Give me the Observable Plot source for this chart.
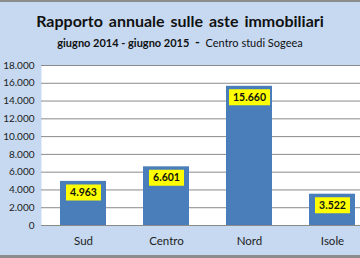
<!DOCTYPE html>
<html><head><meta charset="utf-8">
<script src="https://cdn.jsdelivr.net/npm/d3@7"></script>
<script src="https://cdn.jsdelivr.net/npm/@observablehq/plot@0.6"></script>
<style>
html,body{margin:0;padding:0;}
#wrap{position:relative;width:360px;height:258px;box-sizing:border-box;background:#c6d9f1;border-top:2px solid #8c8c8c;border-bottom:3px solid #8c8c8c;overflow:hidden;font-family:Lato,"Open Sans",sans-serif;}
#title{position:absolute;left:0;right:0;top:9px;text-align:center;font-weight:bold;font-size:16px;color:#111;word-spacing:2px;}
#sub{position:absolute;left:0;right:0;top:32px;text-align:center;font-size:11px;color:#111;}
#chart{position:absolute;left:0;top:54px;}
</style></head>
<body><div id="wrap">
<div id="title">Rapporto annuale sulle aste immobiliari</div>
<div id="sub"><b>giugno 2014 - giugno 2015</b> &nbsp;<b style="font-size:13px">-</b>&nbsp; Centro studi Sogeea</div>
<div id="chart"></div>
</div>
<script>
const regions = ["Sud", "Centro", "Nord", "Isole"];
const values = [4963, 6601, 15660, 3522];
const yTicks = [0, 2000, 4000, 6000, 8000, 10000, 12000, 14000, 16000, 18000];

const data = regions.map((r, i) => ({region: r, value: values[i]}));
const it = d3.formatLocale({decimal: ",", thousands: ".", grouping: [3], currency: ["", " €"]});
const fmt = it.format(",");
const boxSymbol = (w, h) => ({draw(ctx) { ctx.rect(-w / 2, -h / 2, w, h); }});

const chart = Plot.plot({
  width: 360,
  height: 199,
  marginLeft: 41,
  marginRight: 0,
  marginTop: 9,
  marginBottom: 30,
  style: {background: "transparent", fontFamily: "Lato, 'Open Sans', sans-serif"},
  x: {domain: regions, range: [41, 374], paddingInner: 0.44, paddingOuter: 0.22, label: null},
  y: {domain: [0, 18000], label: null},
  marks: [
    Plot.frame({fill: "white", stroke: null}),
    Plot.ruleY(yTicks, {stroke: "#8a8a8a", strokeWidth: 1}),
    Plot.ruleX([0], {x: () => 41, stroke: "#8a8a8a"}),
    Plot.barY(data, {x: "region", y: "value", fill: "#4a7ebb"}),
    Plot.dot(data, {x: "region", y: "value", dy: 11, fill: "#ffff00", stroke: null, r: 5,
      symbol: d => boxSymbol(fmt(d.value).length * 6 + 5, 16)}),
    Plot.text(data, {x: "region", y: "value", dy: 11, text: d => fmt(d.value), fontWeight: "bold", fontSize: 10.5, fill: "#111"}),
    Plot.axisY({ticks: yTicks, tickFormat: fmt, tickSize: 0, tickPadding: 7, fontSize: 10, color: "#222"}),
    Plot.axisX({tickSize: 0, tickPadding: 11, fontSize: 11.5, color: "#222"})
  ]
});
document.getElementById("chart").append(chart);
</script>
</body></html>
